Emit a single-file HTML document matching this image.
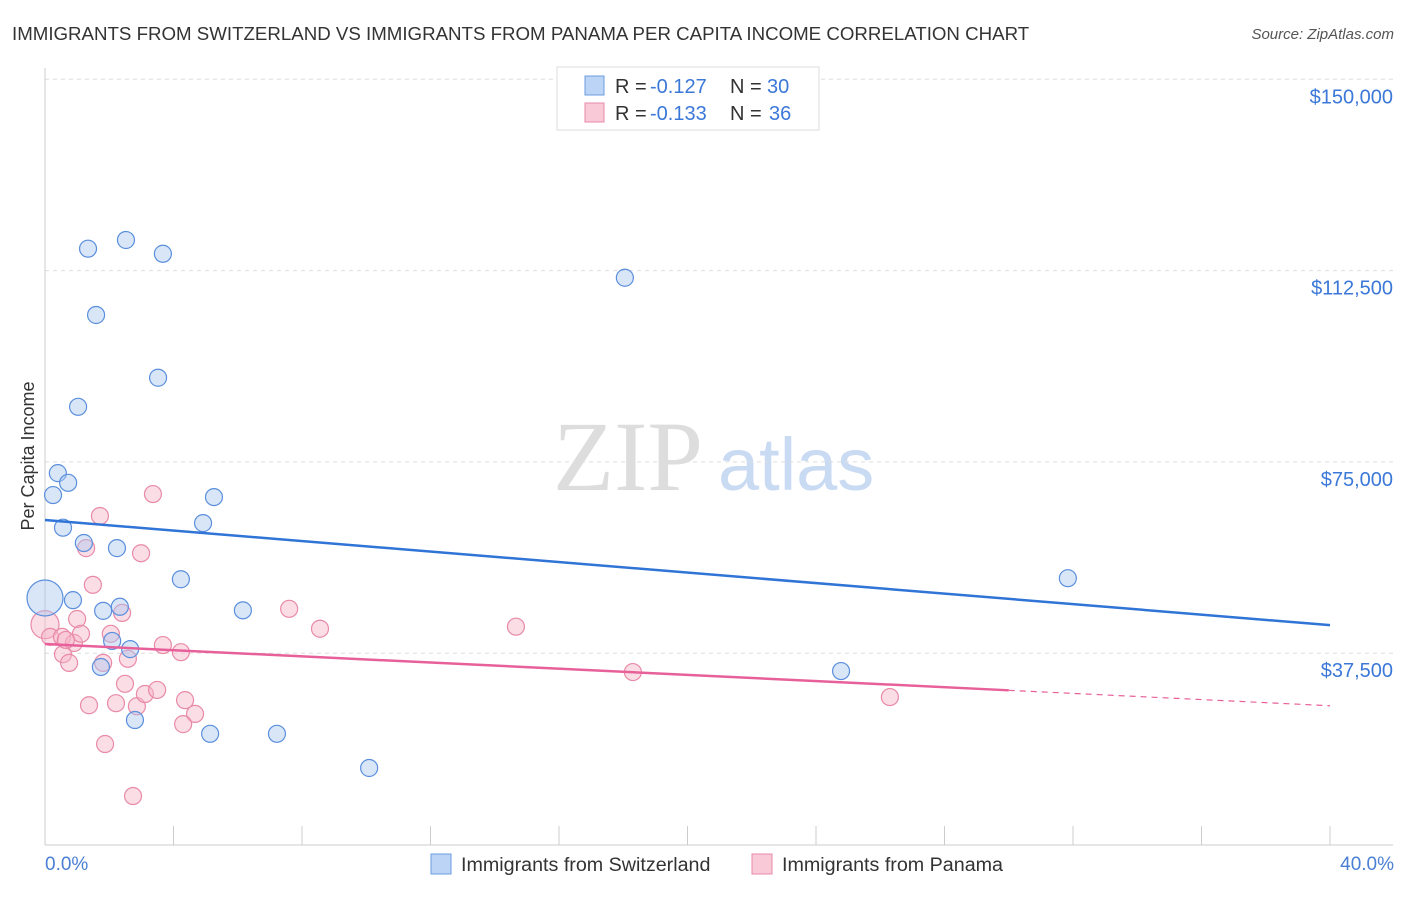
<!DOCTYPE html>
<html><head><meta charset="utf-8"><style>
body{margin:0;background:#fff}
</style></head><body>
<svg width="1406" height="892" xmlns="http://www.w3.org/2000/svg" font-family="Liberation Sans, sans-serif">
<text x="12" y="40" font-size="18.7" fill="#333">IMMIGRANTS FROM SWITZERLAND VS IMMIGRANTS FROM PANAMA PER CAPITA INCOME CORRELATION CHART</text>
<text x="1394" y="39" font-size="15" fill="#555" font-style="italic" text-anchor="end">Source: ZipAtlas.com</text>
<g>
<text x="553" y="490" font-size="100" fill="#ddd" style="font-family:'Liberation Serif',serif">ZIP</text>
<text x="718" y="490" font-size="74" fill="#c9daf3">atlas</text>
</g>
<g id="grid"></g>
<g id="axes"></g>
<g id="marks"></g>
<text transform="translate(34,456) rotate(-90)" font-size="18" fill="#333" text-anchor="middle">Per Capita Income</text>
<text x="45" y="870" font-size="19" fill="#4a7fd4">0.0%</text>
<text x="1394" y="870" font-size="19" fill="#4a7fd4" text-anchor="end">40.0%</text>
<g>
<rect x="557" y="67" width="262" height="63" fill="#fff" stroke="#ddd"/>
<rect x="585" y="76" width="19" height="19" fill="#bcd4f5" stroke="#6b9de0"/>
<rect x="585" y="103" width="19" height="19" fill="#f9c9d8" stroke="#e88aa8"/>
<text x="615" y="93" font-size="20" fill="#333">R =</text>
<text x="650" y="93" font-size="20" fill="#3b78d8">-0.127</text>
<text x="730" y="93" font-size="20" fill="#333">N =</text>
<text x="767" y="93" font-size="20" fill="#3b78d8">30</text>
<text x="615" y="120" font-size="20" fill="#333">R =</text>
<text x="650" y="120" font-size="20" fill="#3b78d8">-0.133</text>
<text x="730" y="120" font-size="20" fill="#333">N =</text>
<text x="769" y="120" font-size="20" fill="#3b78d8">36</text>
</g>
<g>
<rect x="431" y="854" width="20" height="20" fill="#bcd4f5" stroke="#6b9de0"/>
<text x="461" y="871" font-size="19.7" fill="#333">Immigrants from Switzerland</text>
<rect x="752" y="854" width="20" height="20" fill="#f9c9d8" stroke="#e88aa8"/>
<text x="782" y="871" font-size="19.7" fill="#333">Immigrants from Panama</text>
</g>
</svg>
<script>
const yTicks=[150000,112500,75000,37500];
const yTickLabels=["$150,000","$112,500","$75,000","$37,500"];
const blueX=[0,0.25,0.40,0.72,0.56,1.03,1.34,1.59,2.52,3.67,3.52,1.21,2.24,0.87,1.81,2.33,2.09,2.65,1.74,2.80,4.23,4.92,5.26,6.16,5.14,7.22,10.09,18.05,24.78,31.84];
const blueY=[48320,68500,72800,70900,62100,85800,116800,103800,118500,115800,91500,59100,58100,47900,45800,46600,39900,38300,34800,24400,52000,63000,68100,45900,21700,21700,15000,111100,34000,52200];
const pinkX=[0,0.16,0.53,0.90,0.56,0.75,1.0,1.12,1.28,1.49,1.71,2.05,2.40,1.81,2.58,2.99,3.36,3.67,4.23,1.37,2.21,2.49,2.86,3.11,3.49,4.36,4.67,4.30,1.87,2.74,7.60,8.56,14.66,18.30,26.30,0.65];
const pinkY=[43100,40700,40700,39500,37300,35600,44200,41300,58100,50900,64400,41300,45400,35600,36400,57100,68700,39100,37700,27300,27700,31500,27100,29500,30300,28300,25600,23600,19700,9500,46200,42300,42700,33800,28900,40100];
const blueTrend=[63600,43000];
const pinkTrend=[39300,27200];
const pinkSolidEnd=30;
const NS="http://www.w3.org/2000/svg";
const X=p=>45+p/40*1285;
const Y=v=>844.5-v/37500*191.3;
function mk(t,a,parent){const e=document.createElementNS(NS,t);for(const k in a)e.setAttribute(k,a[k]);document.getElementById(parent).appendChild(e);return e;}
yTicks.forEach((v,i)=>{
 const l=mk('line',{x1:45,x2:1393,y1:Y(v),y2:Y(v),stroke:'#ddd','stroke-dasharray':'4,4'},'grid');
 
 
 const t=mk('text',{x:1393,y:Y(v)+24,'font-size':20,fill:'#3b78d8','text-anchor':'end'},'grid');
 t.textContent=yTickLabels[i];
 
 
});
let ax=mk('line',{x1:45,x2:45,y1:68,y2:845,stroke:'#ccc'},'axes');


ax=mk('line',{x1:45,x2:1393,y1:845,y2:845,stroke:'#ccc'},'axes');


for(let i=0;i<=10;i++){
 const t=mk('line',{x1:X(i*4),x2:X(i*4),y1:826,y2:845,stroke:'#ccc'},'axes');
 
 
}
function dots(xs,ys,fill,stroke,name){
 xs.forEach((p,i)=>{
  const r=(i===0)?(name==='blue-point'?18:14):8.5;
  const c=mk('circle',{cx:X(p),cy:Y(ys[i]),r:r,fill:fill,'fill-opacity':0.45,stroke:stroke,'stroke-width':1.2},'marks');
  
  
 });
}
dots(pinkX,pinkY,'#f7b3c8','#e88aa8','pink-point');
dots(blueX,blueY,'#a9c8f0','#5b8fdc','blue-point');
let tl=mk('line',{x1:X(0),x2:X(40),y1:Y(blueTrend[0]),y2:Y(blueTrend[1]),stroke:'#2f74d6','stroke-width':2.5},'marks');


const pv=p=>pinkTrend[0]+(pinkTrend[1]-pinkTrend[0])*p/40;
tl=mk('line',{x1:X(0),x2:X(pinkSolidEnd),y1:Y(pv(0)),y2:Y(pv(pinkSolidEnd)),stroke:'#e8609a','stroke-width':2.5},'marks');


tl=mk('line',{x1:X(pinkSolidEnd),x2:X(40),y1:Y(pv(pinkSolidEnd)),y2:Y(pv(40)),stroke:'#e8609a','stroke-width':1.2,'stroke-dasharray':'6,5'},'marks');


</script>
</body></html>
